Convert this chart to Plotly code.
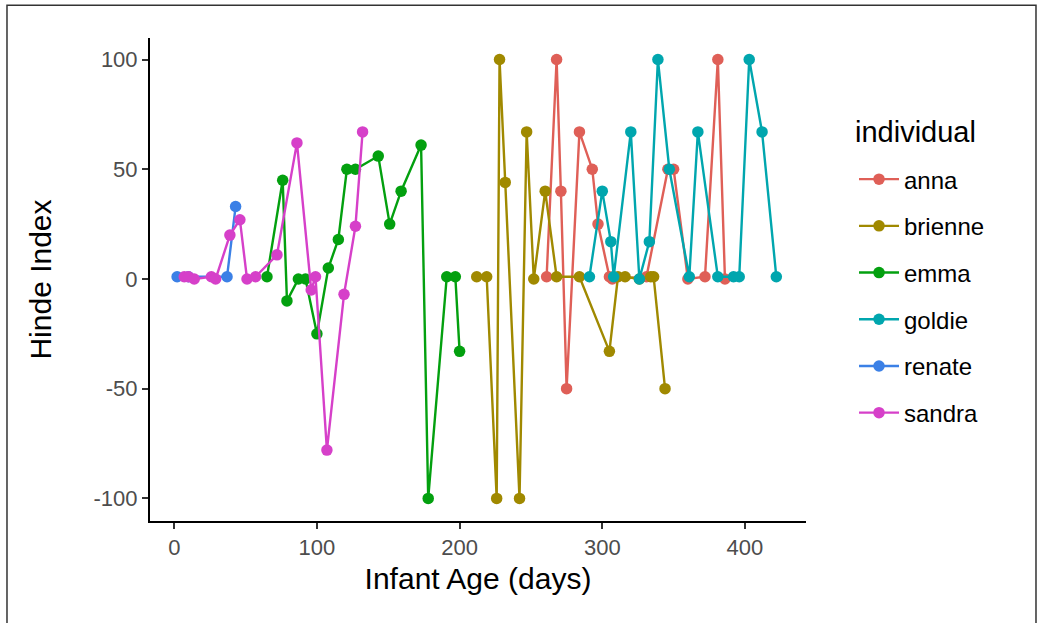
import plotly.graph_objects as go

# ---- data ----
anna_days = [261, 268, 271, 275, 284, 293, 297, 305, 307, 331, 346, 350, 360, 372, 381, 386]
anna_vals = [1, 100, 40, -50, 67, 50, 25, 1, 0, 1, 50, 50, 0, 1, 100, 0]

brienne_days = [212, 219, 226, 228, 232, 242, 247, 252, 260, 268, 284, 305, 311, 316, 326, 334, 336, 344]
brienne_vals = [1, 1, -100, 100, 44, -100, 67, 0, 40, 1, 1, -33, 1, 1, 0, 1, 1, -50]

emma_days = [65, 76, 79, 87, 92, 100, 108, 115, 121, 127, 143, 151, 159, 173, 178, 191, 197, 200]
emma_vals = [1, 45, -10, 0, 0, -25, 5, 18, 50, 50, 56, 25, 40, 61, -100, 1, 1, -33]

goldie_days = [291, 300, 306, 308, 320, 326, 333, 339, 347, 361, 367, 381, 392, 396, 403, 412, 422]
goldie_vals = [1, 40, 17, 1, 67, 0, 17, 100, 50, 1, 67, 1, 1, 1, 100, 67, 1]

renate_days = [2, 10, 37, 43]
renate_vals = [1, 1, 1, 33]

sandra_days = [7, 10, 14, 26, 29, 39, 46, 51, 57, 72, 86, 96, 99, 107, 119, 127, 132]
sandra_vals = [1, 1, 0, 1, 0, 20, 27, 0, 1, 11, 62, -5, 1, -78, -7, 24, 67]

names = ["anna", "brienne", "emma", "goldie", "renate", "sandra"]
colors = ["#DF5F57", "#A08900", "#03A00F", "#00A6AE", "#3B80E6", "#D640C9"]
series = [
    (anna_days, anna_vals),
    (brienne_days, brienne_vals),
    (emma_days, emma_vals),
    (goldie_days, goldie_vals),
    (renate_days, renate_vals),
    (sandra_days, sandra_vals),
]

x_ticks = [0, 100, 200, 300, 400]
y_ticks = [-100, -50, 0, 50, 100]

FONT = "Liberation Sans, Arial, Helvetica, sans-serif"

fig = go.Figure()
for name, col, (xs, ys) in zip(names, colors, series):
    fig.add_trace(go.Scatter(
        x=xs, y=ys, mode="lines+markers", name=name, legendgroup=name,
        line=dict(color=col, width=2.4),
        marker=dict(color=col, size=11.5),
    ))

fig.update_layout(
    width=1042, height=623,
    margin=dict(l=150, r=236, t=38, b=101.5),
    paper_bgcolor="white", plot_bgcolor="white",
    font=dict(family=FONT, color="black"),
    showlegend=True,
    legend=dict(
        x=1.0732, xanchor="left", xref="paper",
        y=0.7535, yanchor="top",
        font=dict(size=24, color="black"),
        tracegroupgap=12.5,
        itemwidth=40,
        bgcolor="rgba(0,0,0,0)",
    ),
    annotations=[dict(
        text="individual", xref="paper", yref="paper",
        x=(853 - 150) / 656, y=(521.5 - 132) / 483.5,
        xanchor="left", yanchor="middle", showarrow=False,
        font=dict(size=29, color="black"),
    )],
    xaxis=dict(
        range=[-17, 442.8], tickvals=x_ticks, ticktext=[str(v) for v in x_ticks],
        showgrid=False, zeroline=False,
        showline=True, linecolor="black", linewidth=2,
        ticks="outside", ticklen=6, tickwidth=1.5, tickcolor="#333333",
        tickfont=dict(size=22, color="#4D4D4D"),
        title=dict(text="Infant Age (days)", font=dict(size=30, color="black"), standoff=9),
    ),
    yaxis=dict(
        range=[-110.3, 109.8], tickvals=y_ticks, ticktext=[str(v) for v in y_ticks],
        showgrid=False, zeroline=False,
        showline=True, linecolor="black", linewidth=2,
        ticks="outside", ticklen=6, tickwidth=1.5, tickcolor="#333333",
        tickfont=dict(size=22, color="#4D4D4D"),
        title=dict(text="Hinde Index", font=dict(size=30, color="black"), standoff=33),
    ),
    shapes=[dict(
        type="rect", xref="paper", yref="paper",
        x0=-0.218, x1=1.3506, y0=-0.25, y1=1.068,
        line=dict(color="#333333", width=1.5), fillcolor="rgba(0,0,0,0)", layer="below",
    )],
)

fig.write_html(
    "out.html",
    config={"displayModeBar": False},
    post_script="document.body.style.margin='0';document.body.style.overflow='hidden';document.documentElement.style.overflow='hidden';",
)
